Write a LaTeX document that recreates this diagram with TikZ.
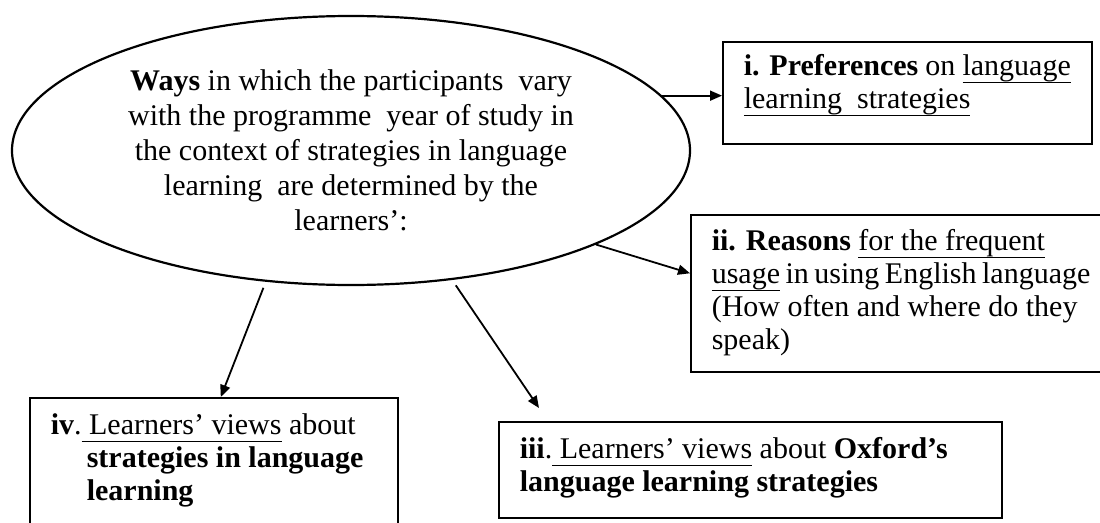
\documentclass[tikz,border=0pt]{standalone}
\usepackage{fontspec}
\setmainfont{Liberation Serif}
\usetikzlibrary{arrows.meta,shapes.geometric}
\tikzset{
  box/.style={draw, line width=1.6pt, rectangle, anchor=north west,
              inner xsep=21pt, inner ysep=0pt},
  conn/.style={-{Triangle[length=12pt,width=10pt]}, line width=1.8pt},
  bigtext/.style={font=\fontsize{30}{33}\selectfont}
}
\newsavebox{\ulbox}
\newcommand{\myul}[1]{\leavevmode\sbox{\ulbox}{#1}\rlap{\rule[-7.5pt]{\wd\ulbox}{1.8pt}}\usebox{\ulbox}}
\newcommand{\boxtext}[4]{\begin{minipage}[c][#1pt][t]{#2pt}\rule{0pt}{#3pt}#4\end{minipage}}
\begin{document}
\begin{tikzpicture}[x=1pt,y=-1pt]
\useasboundingbox (0,0) rectangle (1100,522);

\node[draw, ellipse, line width=2.2pt, minimum width=678pt, minimum height=269pt,
      inner sep=0pt, align=center, font=\fontsize{30}{35}\selectfont] (ell) at (351,150.5)
  {\textbf{Ways} in which the participants\ \ vary\\
   with the programme\ \ year of study in\\
   the context of strategies in language\\
   learning\ \ are determined by the\\
   learners’:};

\node[box, bigtext, minimum width=369pt, minimum height=102pt] (b1) at (722,41)
  {\boxtext{102}{327}{34}{\textbf{i. Preferences} on \myul{language}\\
   \myul{learning\ \ strategies}}};

\node[box, bigtext, minimum width=420pt, minimum height=157pt] (b2) at (690,214)
  {\boxtext{157}{398}{36}{\textbf{ii. Reasons} \myul{for the frequent}\\
   {\spaceskip=5.5pt\myul{usage} in using English language}\\
   (How often and where do they\\
   speak)}};

\node[box, bigtext, minimum width=503pt, minimum height=96pt] (b3) at (498,421)
  {\boxtext{96}{461}{37}{\textbf{iii}.\myul{ Learners’ views} about \textbf{Oxford’s}\\
   \textbf{language learning strategies}}};

\node[box, bigtext, minimum width=368pt, minimum height=140pt] (b4) at (29,397)
  {\boxtext{140}{326}{37}{\hangindent=36pt\hangafter=1
   \textbf{iv}.\myul{ Learners’ views} about\\
   \textbf{strategies in language}\\
   \textbf{learning}}};

\draw[conn] (ell.10.85) -- (ell.10.85 -| b1.west);
\draw[conn] (ell.-21.5) -- ([yshift=20pt]b2.west);
\draw[conn, shorten <=6.5pt] (ell.-52.56) -- ([xshift=41pt,yshift=13pt]b3.north west);
\draw[conn, shorten <=6.5pt] (ell.-123.3) -- ([xshift=7pt]b4.north);
\end{tikzpicture}
\end{document}
